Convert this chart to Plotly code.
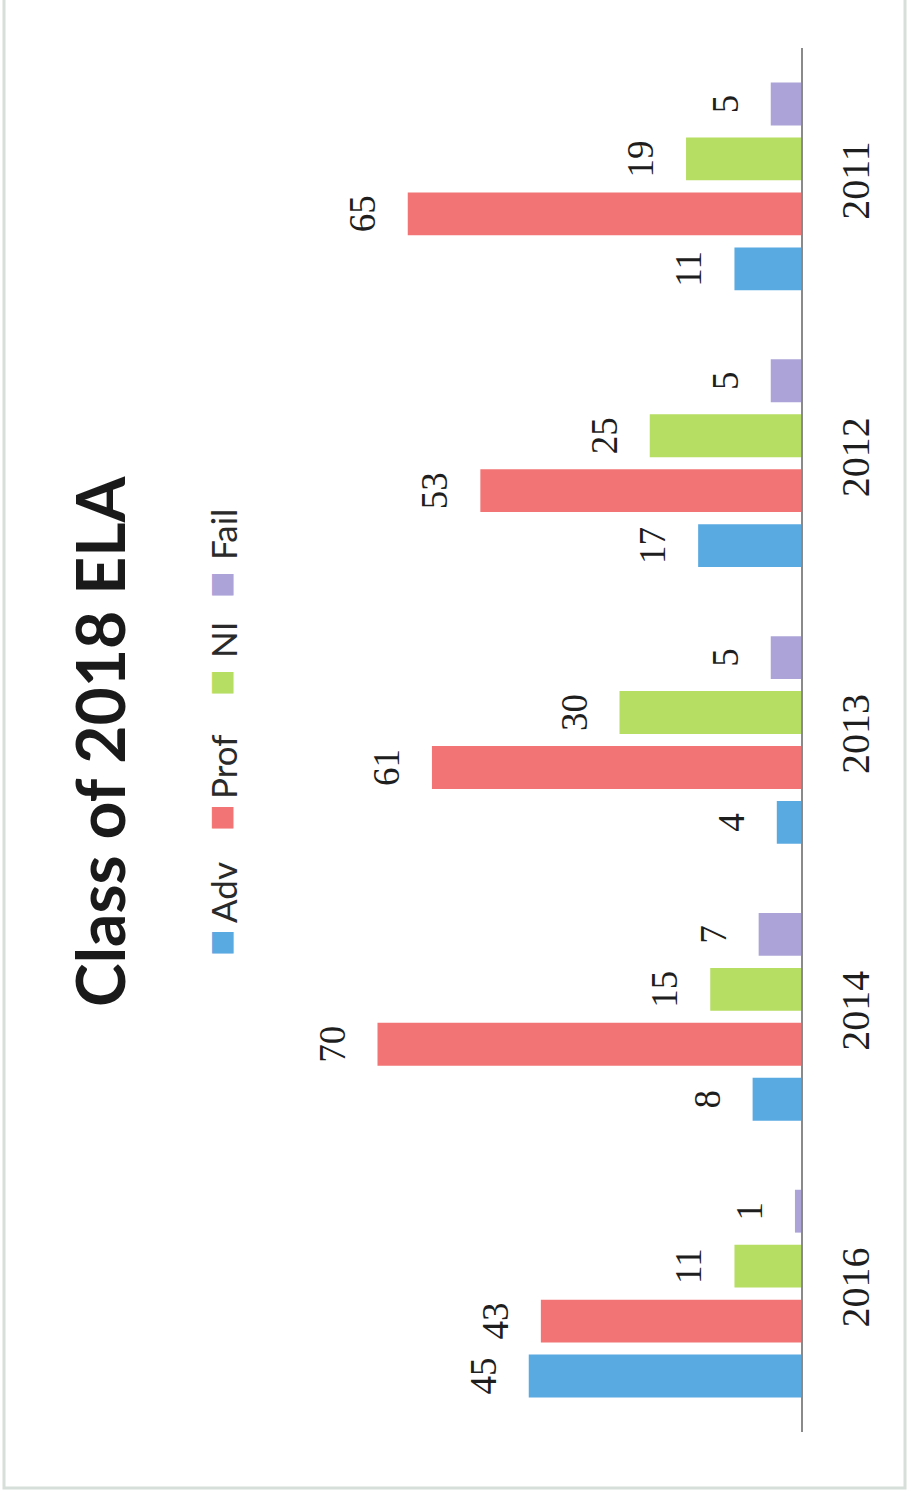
import plotly.graph_objects as go

# Class of 2018 ELA results by year
years = ["2016", "2014", "2013", "2012", "2011"]
adv = [45, 8, 4, 17, 11]
prof = [43, 70, 61, 53, 65]
ni = [11, 15, 30, 25, 19]
fail = [1, 7, 5, 5, 5]

series_names = ["Adv", "Prof", "NI", "Fail"]
series_values = [adv, prof, ni, fail]
series_colors = ["#5aaae2", "#f27474", "#b6de62", "#aca4d8"]

W, H = 908, 1499


def px_x(x):
    return x / W


def px_y(y):
    return (H - y) / H


fig = go.Figure()
for name, vals, col in zip(series_names, series_values, series_colors):
    fig.add_trace(go.Bar(
        name=name,
        y=years,
        x=vals,
        orientation="h",
        marker=dict(color=col, line=dict(width=0)),
        text=vals,
        # the small blank second line pads the label away from the bar end
        texttemplate="<span style='font-size:37px'>%{x}</span><br>&nbsp;",
        textposition="outside",
        textangle=-90,
        constraintext="none",
        textfont=dict(family="Liberation Serif", size=20, color="#1e1e1e"),
        cliponaxis=False,
        showlegend=False,
    ))

# rotated legend entries
legend_swatch_y = [943, 818, 683, 585]
legend_text_y = [893, 767, 640, 535]
annotations = []
for name, col, sy, ty in zip(series_names, series_colors, legend_swatch_y, legend_text_y):
    annotations.append(dict(
        text="■", x=px_x(220), y=px_y(sy), xref="paper", yref="paper",
        xanchor="center", yanchor="middle", showarrow=False, textangle=-90,
        font=dict(family="DejaVu Sans", size=28, color=col),
    ))
    annotations.append(dict(
        text=name, x=px_x(223), y=px_y(ty), xref="paper", yref="paper",
        xanchor="center", yanchor="middle", showarrow=False, textangle=-90,
        font=dict(family="Lato", size=35, color="#2a2a2a"),
    ))

annotations.append(dict(
    text="<b>Class of 2018 ELA</b>", x=px_x(100), y=px_y(741),
    xref="paper", yref="paper", xanchor="center", yanchor="middle",
    showarrow=False, textangle=-90,
    font=dict(family="Lato", size=66, color="#1a1a1a"),
))

fig.update_layout(
    width=W, height=H,
    margin=dict(l=0, r=0, t=0, b=0),
    paper_bgcolor="white",
    plot_bgcolor="white",
    barmode="group",
    bargap=0.206,
    bargroupgap=0.22,
    annotations=annotations,
    shapes=[dict(
        type="rect", xref="paper", yref="paper",
        x0=px_x(4), x1=px_x(905), y0=px_y(1488), y1=1.02,
        line=dict(color="#d6dfda", width=3), fillcolor="rgba(0,0,0,0)",
    )],
    xaxis=dict(
        domain=[px_x(317), px_x(801)],
        range=[80, 0],
        showgrid=False, zeroline=False, showticklabels=False, showline=False,
    ),
    yaxis=dict(
        domain=[px_y(1432), px_y(48)],
        type="category",
        categoryorder="array",
        categoryarray=years,
        side="right",
        showline=True, linecolor="#8a8a8a", linewidth=2,
        showgrid=False, ticks="",
        tickangle=-90,
        ticklabelstandoff=18,
        tickfont=dict(family="Liberation Serif", size=40, color="#1e1e1e"),
    ),
)

fig.write_html("out.html")
